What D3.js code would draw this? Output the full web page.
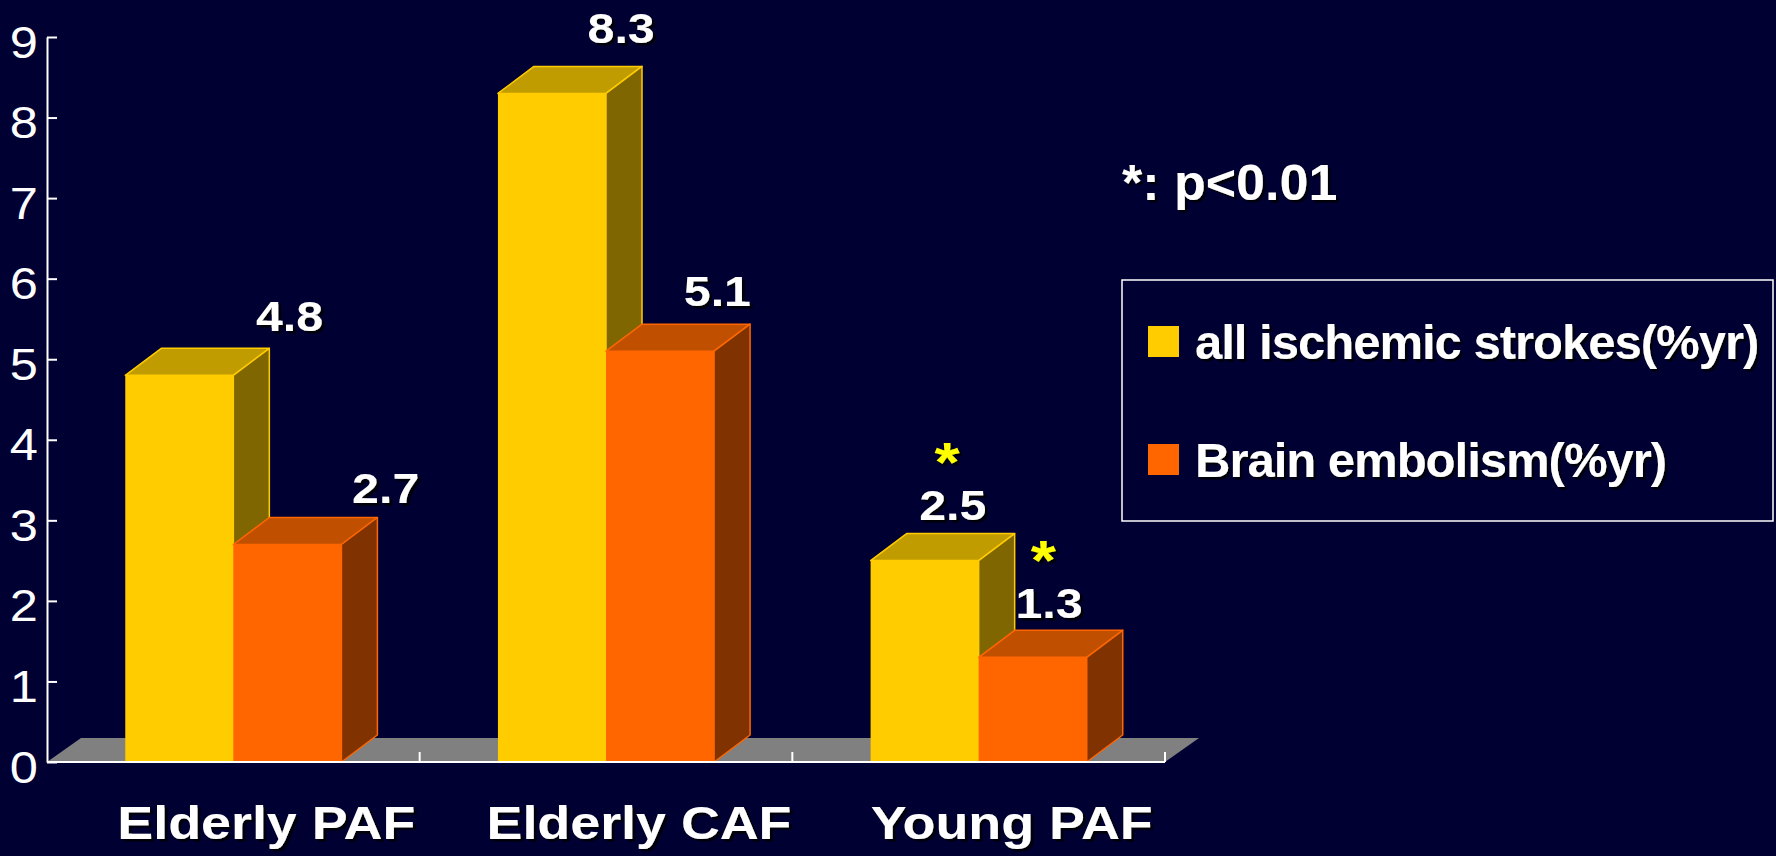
<!DOCTYPE html>
<html>
<head>
<meta charset="utf-8">
<script src="https://cdn.jsdelivr.net/npm/d3@7"></script>
<style>
  html, body { margin: 0; padding: 0; background: #000033; }
  svg { display: block; }
  text { font-family: "Liberation Sans", Arial, sans-serif; }
</style>
</head>
<body>
<svg id="chart" width="1776" height="856"></svg>
<script>
// ---- data ----
const categories = ["Elderly PAF", "Elderly CAF", "Young PAF"];
const seriesNames = ["all ischemic strokes(%yr)", "Brain embolism(%yr)"];
const strokeRates = [4.8, 8.3, 2.5];      // all ischemic strokes, %/yr
const embolismRates = [2.7, 5.1, 1.3];    // brain embolism, %/yr
const yTickValues = [0, 1, 2, 3, 4, 5, 6, 7, 8, 9];
const significance = ["", "", "*"];       // marker shown above both bars of a group
const noteText = "*: p<0.01";

// ---- styling ----
const palette = [
  { front: "#FFCC00", top: "#C09C00", side: "#806600" },
  { front: "#FF6600", top: "#C05000", side: "#803300" }
];
const W = 1776, H = 856;
const plot = { left: 47, right: 1165, top: 37, bottom: 762 };
const depth = { dx: 36, dy: -27 };       // bar extrusion
const floorDepth = { dx: 34, dy: -24 };
const stretch = 1.15;                     // horizontal stretch of chart lettering
const FONT = '"Liberation Sans", Arial, sans-serif';

const svg = d3.select("#chart");
const defs = svg.append("defs");
const shadow = defs.append("filter").attr("id", "txtShadow")
  .attr("x", "-10%").attr("y", "-20%").attr("width", "130%").attr("height", "150%");
shadow.append("feDropShadow").attr("dx", 2.5).attr("dy", 2.5).attr("stdDeviation", 0.6)
  .attr("flood-color", "#000000").attr("flood-opacity", 0.85);

svg.append("rect").attr("width", W).attr("height", H).attr("fill", "#000033");

const series = [strokeRates, embolismRates];
const rows = categories.map((c, i) => ({
  category: c,
  mark: significance[i],
  values: series.map((s, j) => ({ series: j, value: s[i] }))
}));

const x0 = d3.scaleBand().domain(categories).range([plot.left, plot.right]).padding(0);
const groupFrac = 0.58;
const bw = x0.bandwidth();
const x1 = d3.scaleBand().domain(d3.range(series.length))
  .range([bw * (1 - groupFrac) / 2, bw * (1 + groupFrac) / 2]).padding(0);
const y = d3.scaleLinear().domain([0, 9]).range([plot.bottom, plot.top]);

// value labels follow a slight perspective: pulled toward the right, and lifted more on tall bars
const labelX = cx => 1181 + (cx - 1181) * 0.89;
const labelY = yt => yt * 1.02 - 52;

function label(g, x, ty, text, size, opts = {}) {
  return g.append("text")
    .attr("transform", `translate(${x},${ty}) scale(${opts.sx || 1},1)`)
    .attr("text-anchor", opts.anchor || "middle")
    .attr("font-size", size).attr("font-weight", opts.weight || "bold")
    .attr("fill", opts.fill || "#ffffff")
    .attr("filter", opts.shadow === false ? null : "url(#txtShadow)")
    .style("font-family", FONT)
    .text(text);
}

// ---- floor ----
svg.append("polygon")
  .attr("points", [
    [plot.left, plot.bottom],
    [plot.right, plot.bottom],
    [plot.right + floorDepth.dx, plot.bottom + floorDepth.dy],
    [plot.left + floorDepth.dx, plot.bottom + floorDepth.dy]
  ].map(p => p.join(",")).join(" "))
  .attr("fill", "#808080");

// ---- bars ----
const barLayer = svg.append("g");
rows.forEach(row => {
  row.values.forEach(d => {
    const xa = x0(row.category) + x1(d.series);
    const xb = xa + x1.bandwidth();
    const yt = y(d.value), yb = y(0);
    const c = palette[d.series];
    const g = barLayer.append("g");
    g.append("rect").attr("x", xa).attr("y", yt).attr("width", xb - xa).attr("height", yb - yt)
      .attr("fill", c.front);
    g.append("polygon")
      .attr("points", [[xa, yt], [xa + depth.dx, yt + depth.dy], [xb + depth.dx, yt + depth.dy], [xb, yt]]
        .map(p => p.join(",")).join(" "))
      .attr("fill", c.top).attr("stroke", c.front).attr("stroke-width", 1.5).attr("stroke-linejoin", "round");
    g.append("polygon")
      .attr("points", [[xb, yt], [xb + depth.dx, yt + depth.dy], [xb + depth.dx, yb + depth.dy], [xb, yb]]
        .map(p => p.join(",")).join(" "))
      .attr("fill", c.side).attr("stroke", c.front).attr("stroke-width", 1.5).attr("stroke-linejoin", "round");
  });
});

// ---- axes ----
const yAxis = d3.axisLeft(y).tickValues(yTickValues).tickFormat(d3.format("d"))
  .tickSizeInner(-10).tickSizeOuter(0).tickPadding(10);
const gy = svg.append("g").attr("transform", `translate(${plot.left},0)`).call(yAxis);
gy.select(".domain").attr("stroke", "#ffffff").attr("stroke-width", 2);
gy.selectAll(".tick line").attr("stroke", "#ffffff").attr("stroke-width", 2);
gy.selectAll(".tick text")
  .attr("x", null).attr("dy", null)
  .attr("transform", "translate(-9,20) scale(" + stretch + ",1)")
  .attr("fill", "#ffffff").attr("font-size", 44)
  .style("font-family", FONT);

const gx = svg.append("g");
gx.append("line").attr("x1", plot.left).attr("x2", plot.right)
  .attr("y1", plot.bottom).attr("y2", plot.bottom)
  .attr("stroke", "#ffffff").attr("stroke-width", 2);
categories.forEach(c => {
  const bx = x0(c) + x0.bandwidth();
  gx.append("line").attr("x1", bx).attr("x2", bx)
    .attr("y1", plot.bottom).attr("y2", plot.bottom - 10)
    .attr("stroke", "#ffffff").attr("stroke-width", 2);
});

// ---- category labels ----
const catLayer = svg.append("g");
categories.forEach(c => {
  label(catLayer, x0(c) + x0.bandwidth() / 2 + 33, 839, c, 46, { sx: 1.17 });
});

// ---- value labels with significance marks ----
const labelLayer = svg.append("g");
rows.forEach(row => {
  row.values.forEach(d => {
    const cx = x0(row.category) + x1(d.series) + x1.bandwidth() / 2;
    const t = labelLayer.append("text")
      .attr("transform", `translate(${labelX(cx)},${labelY(y(d.value))}) scale(${stretch},1)`)
      .attr("text-anchor", "middle").attr("font-weight", "bold")
      .attr("filter", "url(#txtShadow)")
      .style("font-family", FONT);
    if (row.mark) {
      t.append("tspan").attr("x", -5).attr("y", -39)
        .attr("font-size", 56).attr("fill", "#FFFF00").text(row.mark);
    }
    t.append("tspan").attr("x", 0).attr("y", 0)
      .attr("font-size", 42).attr("fill", "#ffffff").text(d3.format(".1f")(d.value));
  });
});

// ---- note ----
label(svg.append("g"), 1122, 200, noteText, 50, { anchor: "start", sx: 1.04 });

// ---- legend ----
const legend = svg.append("g");
legend.append("rect").attr("x", 1122).attr("y", 280).attr("width", 651).attr("height", 241)
  .attr("fill", "none").attr("stroke", "#ffffff").attr("stroke-width", 1.5);
seriesNames.forEach((name, i) => {
  const base = 359 + i * 118;
  legend.append("rect").attr("x", 1148).attr("y", base - 33).attr("width", 31).attr("height", 31)
    .attr("fill", palette[i].front);
  label(legend, 1195, base, name, 49, { anchor: "start" }).attr("letter-spacing", -1);
});
</script>
</body>
</html>
